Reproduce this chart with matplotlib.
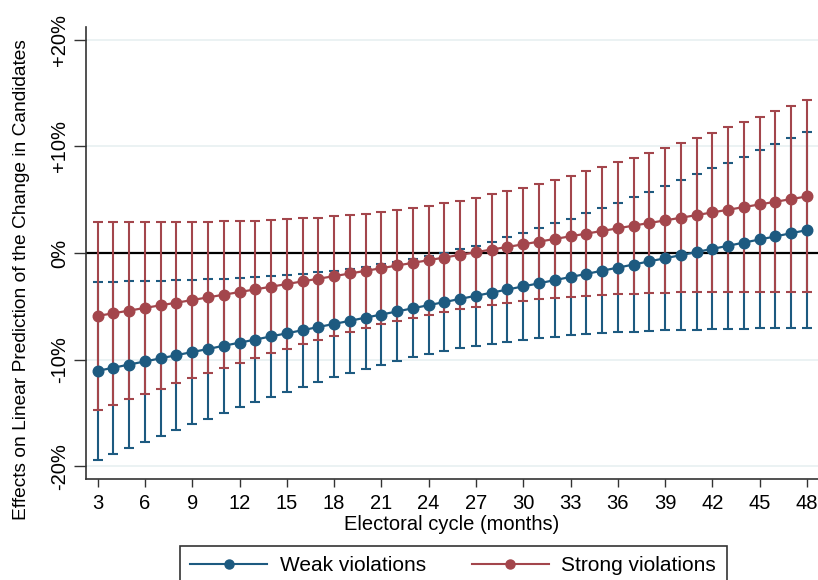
import numpy as np
import matplotlib.pyplot as plt
from matplotlib.lines import Line2D

plt.rcParams['font.family'] = ['Liberation Sans', 'DejaVu Sans']

months = list(range(3, 49))

# weak violations: point estimate and 95% CI (percent)
weak_est = [-11.05, -10.76, -10.46, -10.17, -9.88, -9.58, -9.29, -9.00, -8.70, -8.41,
            -8.12, -7.82, -7.53, -7.24, -6.94, -6.65, -6.36, -6.06, -5.77, -5.48,
            -5.18, -4.89, -4.60, -4.30, -4.01, -3.72, -3.42, -3.13, -2.84, -2.54,
            -2.25, -1.96, -1.66, -1.37, -1.08, -0.78, -0.49, -0.20, 0.10, 0.39,
            0.68, 0.98, 1.27, 1.56, 1.86, 2.15]
weak_lo = [-19.40, -18.83, -18.26, -17.71, -17.16, -16.60, -16.06, -15.53, -15.00, -14.49,
           -13.99, -13.49, -13.01, -12.55, -12.09, -11.66, -11.24, -10.84, -10.47, -10.12,
           -9.79, -9.48, -9.21, -8.94, -8.71, -8.50, -8.30, -8.14, -7.99, -7.85,
           -7.73, -7.63, -7.53, -7.45, -7.38, -7.31, -7.26, -7.22, -7.18, -7.15,
           -7.12, -7.09, -7.08, -7.07, -7.05, -7.05]
weak_hi = [-2.70, -2.69, -2.66, -2.63, -2.60, -2.56, -2.52, -2.47, -2.40, -2.33,
           -2.25, -2.15, -2.05, -1.93, -1.79, -1.64, -1.48, -1.28, -1.07, -0.84,
           -0.57, -0.30, 0.01, 0.34, 0.69, 1.06, 1.46, 1.88, 2.31, 2.77,
           3.23, 3.71, 4.21, 4.71, 5.22, 5.75, 6.28, 6.82, 7.38, 7.93,
           8.48, 9.05, 9.62, 10.19, 10.77, 11.35]

# strong violations
strong_est = [-5.90, -5.65, -5.40, -5.15, -4.90, -4.66, -4.41, -4.16, -3.91, -3.66,
              -3.41, -3.16, -2.91, -2.66, -2.41, -2.17, -1.92, -1.67, -1.42, -1.17,
              -0.92, -0.67, -0.42, -0.17, 0.08, 0.33, 0.57, 0.82, 1.07, 1.32,
              1.57, 1.82, 2.07, 2.32, 2.57, 2.82, 3.06, 3.31, 3.56, 3.81,
              4.06, 4.31, 4.56, 4.81, 5.06, 5.31]
strong_lo = [-14.75, -14.23, -13.72, -13.22, -12.72, -12.23, -11.74, -11.26, -10.79, -10.32,
             -9.87, -9.42, -8.99, -8.56, -8.15, -7.77, -7.39, -7.03, -6.69, -6.36,
             -6.05, -5.77, -5.50, -5.26, -5.04, -4.84, -4.66, -4.50, -4.35, -4.23,
             -4.12, -4.02, -3.94, -3.87, -3.81, -3.76, -3.73, -3.70, -3.68, -3.67,
             -3.66, -3.66, -3.66, -3.67, -3.68, -3.70]
strong_hi = [2.95, 2.93, 2.92, 2.92, 2.92, 2.91, 2.92, 2.94, 2.97, 3.00,
             3.05, 3.10, 3.17, 3.24, 3.33, 3.43, 3.55, 3.69, 3.85, 4.02,
             4.21, 4.43, 4.66, 4.92, 5.20, 5.50, 5.80, 6.14, 6.49, 6.87,
             7.26, 7.66, 8.08, 8.51, 8.95, 9.40, 9.85, 10.32, 10.80, 11.29,
             11.78, 12.28, 12.78, 13.29, 13.80, 14.32]

xticks = list(range(3, 49, 3))
yticks = [-20, -10, 0, 10, 20]
ytick_labels = ['-20%', '-10%', '0%', '+10%', '+20%']

blue = '#1d5a80'
red = '#a3464c'

fig = plt.figure(figsize=(8.18, 5.80), dpi=100)
ax = fig.add_axes([0.1051, 0.1741, 0.8949, 0.7793])

x = np.array(months)
for y in [-20, -10, 10, 20]:
    ax.axhline(y, color='#e8f0f1', lw=1.2, zorder=0)
ax.axhline(0, color='black', lw=1.6, zorder=1)

# confidence intervals first, then the connected estimates
for est, lo, hi, c in [(weak_est, weak_lo, weak_hi, blue),
                       (strong_est, strong_lo, strong_hi, red)]:
    est = np.array(est)
    ax.errorbar(x, est, yerr=[est - np.array(lo), np.array(hi) - est],
                fmt='none', ecolor=c, elinewidth=1.5, capsize=3.4, capthick=1.5, zorder=2)
for est, c in [(weak_est, blue), (strong_est, red)]:
    ax.plot(x, est, color=c, lw=1.6, marker='o', markersize=7.6, zorder=3)

ax.set_xlim(2.26, 48.7)
ax.set_ylim(-21.2, 21.2)
ax.set_xticks(xticks)
ax.set_yticks(yticks)
ax.set_yticklabels(ytick_labels)
for lab in ax.get_yticklabels():
    lab.set_rotation(90)
    lab.set_va('center')
ax.tick_params(axis='x', labelsize=14.5, length=6, width=1, color='#333333', pad=5)
ax.tick_params(axis='y', labelsize=14.5, length=9, width=1, color='#333333', pad=3)

for s in ['top', 'right']:
    ax.spines[s].set_visible(False)
for s in ['left', 'bottom']:
    ax.spines[s].set_color('#333333')
    ax.spines[s].set_linewidth(1.2)

ax.set_xlabel('Electoral cycle (months)', fontsize=14.5, labelpad=1)
fig.text(22 / 818, 1 - 280 / 580, 'Effects on Linear Prediction of the Change in Candidates',
         rotation=90, ha='center', va='center', fontsize=13.8)

handles = [Line2D([], [], color=blue, lw=1.5, marker='o', markersize=6.5),
           Line2D([], [], color=red, lw=1.5, marker='o', markersize=6.5)]
leg = fig.legend(handles, ['Weak violations', 'Strong violations'], ncol=2, numpoints=1,
                 loc='upper center', bbox_to_anchor=(0.554, 1 - 546 / 580), fontsize=15,
                 frameon=True, fancybox=False, edgecolor='black', handlelength=3.7,
                 handletextpad=0.6, columnspacing=2.2, borderpad=0.5, borderaxespad=0)
leg.get_frame().set_linewidth(1.2)

fig.savefig('out.png', dpi=100)
